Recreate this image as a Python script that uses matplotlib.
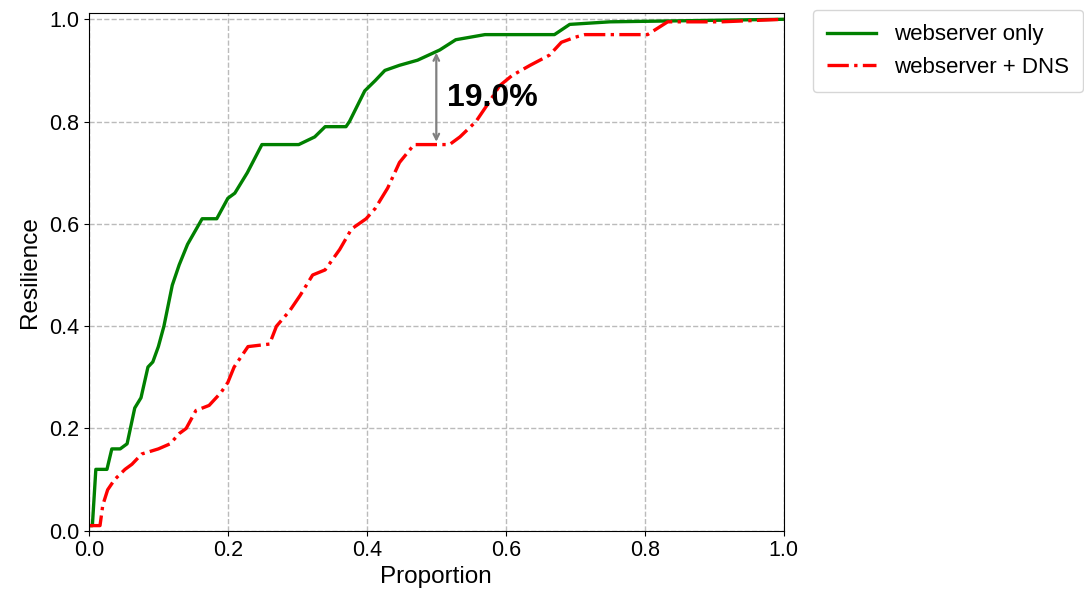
import numpy as np
import matplotlib.pyplot as plt

plt.rcParams['font.family'] = ['Liberation Sans', 'DejaVu Sans']

# webserver only (green, solid)
web_x = [0.0, 0.005, 0.010, 0.026, 0.033, 0.045, 0.055, 0.066, 0.075, 0.085, 0.092, 0.10,
         0.108, 0.12, 0.13, 0.142, 0.163, 0.184, 0.20, 0.21, 0.228, 0.249, 0.302, 0.325,
         0.34, 0.37, 0.375, 0.397, 0.412, 0.426, 0.447, 0.473, 0.505, 0.528, 0.57, 0.67,
         0.692, 0.75, 0.85, 1.0]
web_y = [0.01, 0.01, 0.12, 0.12, 0.16, 0.16, 0.17, 0.24, 0.26, 0.32, 0.33, 0.36,
         0.40, 0.48, 0.52, 0.56, 0.61, 0.61, 0.65, 0.66, 0.70, 0.755, 0.755, 0.77,
         0.79, 0.79, 0.80, 0.86, 0.88, 0.90, 0.91, 0.92, 0.94, 0.96, 0.97, 0.97,
         0.99, 0.995, 0.997, 1.0]

# webserver + DNS (red, dash-dot)
dns_x = [0.0, 0.016, 0.020, 0.027, 0.037, 0.052, 0.062, 0.076, 0.10, 0.117, 0.13, 0.14,
         0.154, 0.173, 0.19, 0.20, 0.209, 0.229, 0.26, 0.27, 0.289, 0.304, 0.322, 0.34,
         0.361, 0.378, 0.399, 0.412, 0.43, 0.447, 0.468, 0.519, 0.534, 0.557, 0.577, 0.591,
         0.609, 0.635, 0.663, 0.68, 0.70, 0.714, 0.804, 0.833, 0.91, 1.0]
dns_y = [0.01, 0.01, 0.05, 0.08, 0.10, 0.12, 0.13, 0.15, 0.16, 0.17, 0.19, 0.20,
         0.235, 0.245, 0.27, 0.29, 0.32, 0.36, 0.365, 0.40, 0.43, 0.46, 0.50, 0.51,
         0.55, 0.59, 0.61, 0.63, 0.67, 0.72, 0.755, 0.755, 0.77, 0.80, 0.84, 0.87,
         0.89, 0.91, 0.93, 0.955, 0.965, 0.97, 0.97, 0.995, 0.995, 1.0]

gap_x = 0.5
gap_lo, gap_hi = 0.755, 0.94
gap_label = '19.0%'

fig = plt.figure(figsize=(10.84, 5.97), dpi=100)
ax = fig.add_axes([0.082, 0.111, 0.641, 0.867])

ax.plot(web_x, web_y, color='green', linewidth=2.4, linestyle='-', label='webserver only')
ax.plot(dns_x, dns_y, color='red', linewidth=2.4, linestyle='-.', label='webserver + DNS')

ax.annotate('', xy=(gap_x, gap_hi), xytext=(gap_x, gap_lo),
            arrowprops=dict(arrowstyle='<->', color='grey', lw=1.6))
ax.text(gap_x + 0.015, 0.847, gap_label, fontsize=23, fontweight='bold',
        va='center', ha='left')

ax.set_xlim(0, 1.0)
ax.set_ylim(0, 1.012)
ax.set_xticks(np.arange(0, 1.01, 0.2))
ax.set_yticks(np.arange(0, 1.01, 0.2))
ax.tick_params(labelsize=15.5)
ax.set_xlabel('Proportion', fontsize=17.5, labelpad=3)
ax.set_ylabel('Resilience', fontsize=17.5, labelpad=6)
ax.grid(True, linestyle='--', color='#bbbbbb', linewidth=1)

ax.legend(loc='upper left', bbox_to_anchor=(1.042, 1.006), borderaxespad=0,
          fontsize=16, handlelength=2.2, handletextpad=0.8, borderpad=0.65)

fig.savefig('out.png', dpi=100)
